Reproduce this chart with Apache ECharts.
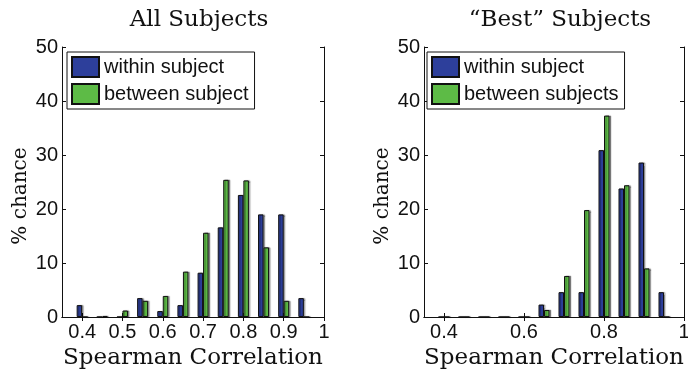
<!DOCTYPE html>
<html>
<head>
<meta charset="utf-8">
<script src="https://cdn.jsdelivr.net/npm/echarts@6/dist/echarts.min.js"></script>
<style>
  html, body { margin: 0; padding: 0; background: #fff; }
  #chart { width: 688px; height: 370px; }
</style>
</head>
<body>
<div id="chart"></div>
<script>
// Histogram bin centres (Spearman correlation)
const binCenters = [0.4, 0.45, 0.5, 0.55, 0.6, 0.65, 0.7, 0.75, 0.8, 0.85, 0.9, 0.95];

// % chance per bin, all subjects
const allWithin  = [2.2, 0, 0, 3.5, 1.1, 2.2, 8.2, 16.6, 22.6, 19.0, 19.0, 3.5];
const allBetween = [0, 0.2, 1.2, 3.0, 3.9, 8.4, 15.6, 25.4, 25.3, 12.9, 3.0, 0];

// % chance per bin, "best" subjects
const bestWithin  = [0, 0, 0, 0, 0, 2.3, 4.6, 4.6, 30.9, 23.8, 28.6, 4.6];
const bestBetween = [0, 0, 0, 0, 0, 1.3, 7.6, 19.8, 37.3, 24.4, 9.0, 0];

// Tick labels
const xTicksAll  = [0.4, 0.5, 0.6, 0.7, 0.8, 0.9, 1];
const xTicksBest = [0.4, 0.6, 0.8, 1];
const yTicks = [0, 10, 20, 30, 40, 50];

const titles = ['All Subjects', '\u201cBest\u201d Subjects'];
const legendNames = [
  ['within subject', 'between subject'],
  ['within subject', 'between subjects']
];

const BLUE = '#2d3f9b';
const GREEN = '#5dbb46';
const SERIF = '"DejaVu Serif", "Liberation Serif", serif';
const SANS = '"Liberation Sans", Arial, sans-serif';

const grids = [
  { left: 62, top: 47, width: 262, height: 270, containLabel: false, outerBoundsMode: 'none' },
  { left: 424, top: 47, width: 260, height: 270, containLabel: false, outerBoundsMode: 'none' }
];

const pairs = (vals) => binCenters.map((x, i) => [x, vals[i]]);

function xAxes(gi, ticks) {
  const base = {
    gridIndex: gi, type: 'value', min: 0.35, max: 1,
    axisLine: { show: true, lineStyle: { color: '#111', width: 1 } },
    axisTick: { show: true, inside: true, length: 4, customValues: ticks, lineStyle: { color: '#111' } },
    splitLine: { show: false }
  };
  return [
    Object.assign({}, base, {
      position: 'bottom',
      axisLabel: { show: true, customValues: ticks, fontFamily: SANS, fontSize: 20, color: '#111', margin: 5,
                   formatter: v => String(v) },
      name: 'Spearman Correlation', nameLocation: 'middle', nameGap: 26,
      nameTextStyle: { fontFamily: SERIF, fontSize: 23, color: '#111' }
    }),
    Object.assign({}, base, { position: 'top', axisLabel: { show: false } })
  ];
}

function yAxes(gi) {
  const base = {
    gridIndex: gi, type: 'value', min: 0, max: 50, interval: 10,
    axisLine: { show: true, lineStyle: { color: '#111', width: 1 } },
    axisTick: { show: true, inside: true, length: 4, lineStyle: { color: '#111' } },
    splitLine: { show: false }
  };
  return [
    Object.assign({}, base, {
      position: 'left',
      axisLabel: { show: true, fontFamily: SANS, fontSize: 20, color: '#111', margin: 4,
                   customValues: yTicks },
      name: '% chance', nameLocation: 'middle', nameGap: 31,
      nameTextStyle: { fontFamily: SERIF, fontSize: 20, color: '#111', padding: [0, 28, 0, 0] }
    }),
    Object.assign({}, base, { position: 'right', axisLabel: { show: false } })
  ];
}

function barSeries(name, vals, color, gi) {
  return {
    type: 'bar', name: name,
    xAxisIndex: gi * 2, yAxisIndex: gi * 2,
    data: pairs(vals),
    barWidth: 5.5, barGap: '0%',
    itemStyle: {
      color: color, borderColor: '#111', borderWidth: 1,
      shadowColor: 'rgba(0,0,0,0.35)', shadowOffsetX: 1.5, shadowOffsetY: 0, shadowBlur: 1
    },
    emphasis: { disabled: true },
    animation: false
  };
}

function legend(gi, left) {
  return {
    left: left, top: 52, orient: 'vertical',
    data: legendNames[gi],
    itemWidth: 27, itemHeight: 20, itemGap: 5,
    padding: [4, 6, 4, 4],
    borderColor: '#111', borderWidth: 1, backgroundColor: '#fff',
    icon: 'rect', selectedMode: false,
    textStyle: { fontFamily: SANS, fontSize: 20, color: '#111' },
    itemStyle: { shadowBlur: 0, shadowOffsetX: 0, shadowColor: 'transparent' }
  };
}

const chart = echarts.init(document.getElementById('chart'), null, { renderer: 'canvas' });
chart.setOption({
  animation: false,
  backgroundColor: '#fff',
  title: [
    { text: titles[0], left: 194, top: 4, textAlign: 'center',
      textStyle: { fontFamily: SERIF, fontSize: 23, fontWeight: 'normal', color: '#111' } },
    { text: titles[1], left: 555, top: 4, textAlign: 'center',
      textStyle: { fontFamily: SERIF, fontSize: 23, fontWeight: 'normal', color: '#111' } }
  ],
  grid: grids,
  xAxis: xAxes(0, xTicksAll).concat(xAxes(1, xTicksBest)),
  yAxis: yAxes(0).concat(yAxes(1)),
  legend: [legend(0, 67), legend(1, 427)],
  series: [
    barSeries(legendNames[0][0], allWithin, BLUE, 0),
    barSeries(legendNames[0][1], allBetween, GREEN, 0),
    barSeries(legendNames[1][0], bestWithin, BLUE, 1),
    barSeries(legendNames[1][1], bestBetween, GREEN, 1)
  ]
});
</script>
</body>
</html>
